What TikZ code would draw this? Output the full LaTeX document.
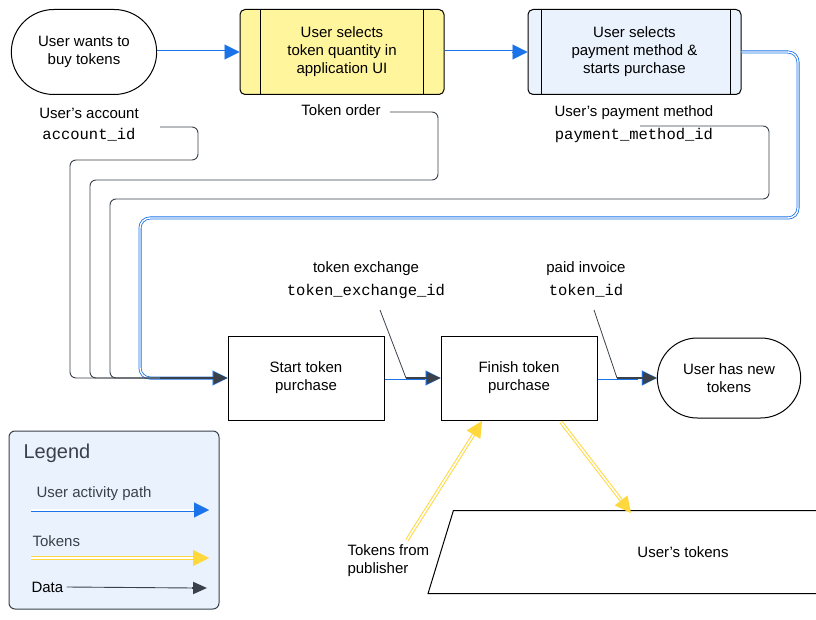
\documentclass[tikz,border=0pt]{standalone}
\usepackage{fontspec}
\setmainfont{Liberation Sans}
\setmonofont{Liberation Mono}
\usetikzlibrary{arrows.meta,shapes.geometric,shapes.misc}
\definecolor{ublue}{HTML}{1A73E8}
\definecolor{dgray}{HTML}{3A414A}
\definecolor{yfill}{HTML}{FFF59D}
\definecolor{bfill}{HTML}{EAF2FD}
\definecolor{tyel}{HTML}{FFD83B}
\tikzset{
 txt/.style={font=\fontsize{15}{18}\selectfont, align=center, text=black},
 mono/.style={font=\ttfamily\fontsize{15.5}{18}\selectfont},
 stadium/.style={txt, draw=black, line width=1pt, rounded rectangle, minimum width=152, minimum height=85},
 procbox/.style={txt, draw=black, line width=1pt, minimum width=156, minimum height=84},
 uipath/.style={draw=ublue, double=white, double distance=1.4pt, line width=0.8pt, rounded corners=10},
 tokpath/.style={draw=tyel, double=white, double distance=1.6pt, line width=1pt},
 datapath/.style={draw=dgray, line width=0.9pt, rounded corners=6},
 btip/.style={-{Triangle[length=15,width=15]}, ublue, line width=0.1pt},
 dtip/.style={-{Triangle[length=14,width=12]}, dgray, line width=2pt},
 ytip/.style={-{Triangle[length=16,width=16]}, tyel, line width=0.1pt},
}
\begin{document}
\begin{tikzpicture}[x=1pt,y=-1pt]
\useasboundingbox (0,0) rectangle (816,620);
% top nodes
\node[stadium] (s) at (84,52) {User wants to\\buy tokens};
\node[txt, draw=black, line width=1pt, fill=yfill, rounded corners=5, minimum width=204, minimum height=85] (q) at (342,52) {User selects\\token quantity in\\application UI};
\draw[line width=1pt] (260,10) -- (260,95) (423,10) -- (423,95);
\node[txt, draw=black, line width=1pt, fill=bfill, rounded corners=5, minimum width=213, minimum height=85] (p) at (634.5,52) {User selects\\payment method \&\\starts purchase};
\draw[line width=1pt] (541,10) -- (541,95) (730,10) -- (730,95);
% bottom nodes
\node[procbox] (st) at (306,378) {Start token\\purchase};
\node[procbox] (fi) at (519,378) {Finish token\\purchase};
\node[stadium, minimum width=150, minimum height=80] (e) at (729,378) {User has new\\tokens};
\node[txt, draw=black, line width=1pt, trapezium, trapezium left angle=73, trapezium right angle=107, minimum width=112, minimum height=83] (ut) at (683,552) {User's tokens};
% labels
\node[txt] (la1) at (89,113) {User's account};
\node[mono] (la2) at (89,135) {account\_id};
\node[txt] (lt) at (341,110) {Token order};
\node[txt] (lp1) at (634,113) {User's payment method};
\node[mono] (lp2) at (634,135) {payment\_method\_id};
\node[txt] (lx1) at (366,269) {token exchange};
\node[mono] (lx2) at (366,291) {token\_exchange\_id};
\node[txt] (li1) at (586,269) {paid invoice};
\node[mono] (li2) at (586,291) {token\_id};
\node[txt, align=left, anchor=west] (pub) at (344,561) {Tokens from\\publisher};
% user path
\draw[uipath] (s.east) -- (228,52);
\draw[btip] (226,52) -- (q.west);
\draw[uipath] (q.east) -- (514,52);
\draw[btip] (512,52) -- (p.west);
\draw[uipath] (p.east) -- (798,52) -- (798,218) -- (140,218) -- (140,378) -- (214,378);
\draw[uipath] (st.east) -- (425,378);
\draw[uipath] (fi.east) -- (638,378);
\draw[btip] (212,378) -- (st.west);
\draw[btip] (423,378) -- (fi.west);
\draw[btip] (636,378) -- (e.west);
% data lines
\coordinate (da) at (160,127);
\coordinate (dt) at (390,112);
\coordinate (dp) at (640,126);
\draw[datapath] (da) -- (198,127) -- (198,160) -- (70,160) -- (70,378) -- (214,378);
\draw[datapath] (dt) -- (438,112) -- (438,180) -- (90,180) -- (90,378) -- (214,378);
\draw[datapath] (dp) -- (769,126) -- (769,199) -- (110,199) -- (110,378) -- (214,378);
\draw[dgray, line width=2.5pt] (160,378) -- (214,378);
\draw[dtip] (214,378) -- (st.west);
\coordinate (xa) at (380,310);
\coordinate (xb) at (406,378);
\draw[dgray, line width=0.8pt] (xa) -- (xb);
\draw[dgray, line width=2.5pt] (xb) -- (427,378);
\draw[dtip] (427,378) -- (fi.west);
\coordinate (ia) at (594,310);
\coordinate (ib) at (617,378);
\draw[dgray, line width=0.8pt] (ia) -- (ib);
\draw[dgray, line width=2.5pt] (ib) -- (640,378);
\draw[dtip] (640,378) -- (e.west);
% tokens
\coordinate (ya) at (407,540);
\draw[tokpath] (ya) -- (474,434);
\draw[ytip] (473,435.5) -- (482,421);
\coordinate (yb) at (561,422);
\draw[tokpath] (yb) -- (621,500);
\draw[ytip] (620,499) -- (631,513);
% legend
\node[draw=dgray, line width=1pt, fill=bfill, rounded corners=6, minimum width=210, minimum height=178] (lg) at (114,520) {};
\node[font=\fontsize{20}{24}\selectfont, text=dgray, anchor=west] (lgt) at (20,453) {Legend};
\node[txt, anchor=west, text=dgray] (l1) at (33,494) {User activity path};
\node[txt, anchor=west, text=dgray] (l2) at (29,541) {Tokens};
\node[txt, anchor=west] (l3) at (28,587) {Data};
\draw[uipath] (31,510) -- (196,510);
\draw[btip] (194,510) -- (209,510);
\draw[tokpath] (31,558) -- (196,558);
\draw[ytip] (194,558) -- (209,558);
\draw[dgray, line width=0.9pt] (l3.east) -- (194,588);
\draw[dtip] (192,588) -- (207,588);
\end{tikzpicture}
\end{document}
